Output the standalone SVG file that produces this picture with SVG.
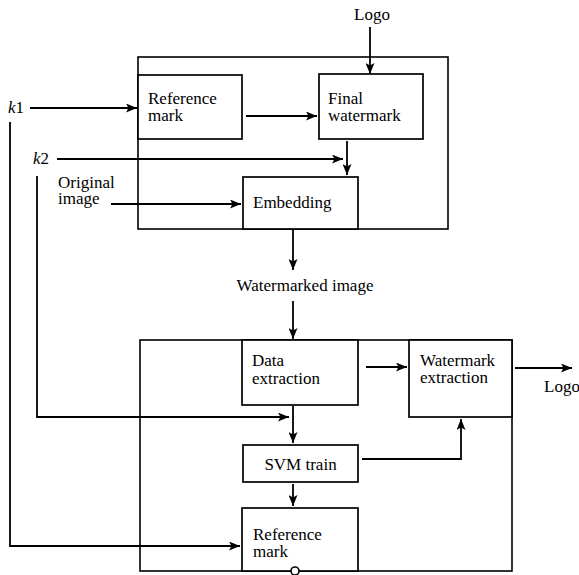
<svg xmlns="http://www.w3.org/2000/svg" width="579" height="575" viewBox="0 0 579 575">
<style>
  .box { fill: #fff; stroke: #000; stroke-width: 1.7; }
  .frame { fill: none; stroke: #000; stroke-width: 1.6; }
  .arr { fill: none; stroke: #000; stroke-width: 1.8; marker-end: url(#ah); }
  .lbl { font-family: "Liberation Serif", "Times New Roman", serif; font-size: 17px; fill: #000; }
</style>
<defs>
  <marker id="ah" viewBox="0 0 11 9" refX="11" refY="4.5" markerWidth="11" markerHeight="9" markerUnits="userSpaceOnUse" orient="auto">
    <path d="M0,0 L11,4.5 L0,9 L2.5,4.5 Z" fill="#000"/>
  </marker>
</defs>
<rect x="0" y="0" width="579" height="575" fill="#fff"/>

<!-- embedding stage frame -->
<rect class="frame" x="138" y="57" width="310" height="172"/>
<!-- extraction stage frame -->
<rect class="frame" x="140" y="340" width="372" height="231"/>

<g id="connectors">
  <!-- Logo into final watermark -->
  <line class="arr" x1="370" y1="27" x2="370" y2="74"/>
  <!-- k1 into reference mark -->
  <line class="arr" x1="30" y1="108" x2="137" y2="108"/>
  <!-- reference mark to final watermark -->
  <line class="arr" x1="246" y1="116" x2="317" y2="116"/>
  <!-- k2 into embedding path -->
  <line class="arr" x1="57" y1="159" x2="343" y2="159"/>
  <!-- final watermark to embedding -->
  <line class="arr" x1="347" y1="141" x2="347" y2="175"/>
  <!-- original image into embedding -->
  <line class="arr" x1="111" y1="204" x2="241" y2="204"/>
  <!-- embedding out -->
  <line class="arr" x1="293" y1="229" x2="293" y2="270"/>
  <!-- watermarked image into data extraction -->
  <line class="arr" x1="293" y1="301" x2="293" y2="339"/>
  <!-- data extraction to watermark extraction -->
  <line class="arr" x1="366" y1="367" x2="407" y2="367"/>
  <!-- logo out -->
  <line class="arr" x1="515" y1="368" x2="572" y2="368"/>
  <!-- data extraction to SVM train -->
  <line class="arr" x1="293" y1="406" x2="293" y2="443"/>
  <!-- k2 branch to SVM path -->
  <polyline class="arr" points="37,176 37,417 289,417"/>
  <!-- SVM train to watermark extraction -->
  <polyline class="arr" points="362,459 461,459 461,419"/>
  <!-- SVM train to reference mark -->
  <line class="arr" x1="293" y1="484" x2="293" y2="506"/>
  <!-- k1 branch to reference mark -->
  <polyline class="arr" points="10,122 10,546 240,546"/>
</g>

<g id="ref-mark-top">
  <rect class="box" x="138" y="75" width="104" height="64"/>
  <text class="lbl" x="148" y="104">Reference</text>
  <text class="lbl" x="148" y="121">mark</text>
</g>
<g id="final-watermark">
  <rect class="box" x="319" y="74" width="104" height="65"/>
  <text class="lbl" x="328" y="104">Final</text>
  <text class="lbl" x="328" y="121">watermark</text>
</g>
<g id="embedding">
  <rect class="box" x="243" y="177" width="115" height="52"/>
  <text class="lbl" x="253" y="208">Embedding</text>
</g>
<g id="data-extraction">
  <rect class="box" x="242" y="340" width="116" height="65"/>
  <text class="lbl" x="252" y="366">Data</text>
  <text class="lbl" x="252" y="384">extraction</text>
</g>
<g id="watermark-extraction">
  <rect class="box" x="409" y="340" width="103" height="77"/>
  <text class="lbl" x="420" y="366">Watermark</text>
  <text class="lbl" x="420" y="383">extraction</text>
</g>
<g id="svm-train">
  <rect class="box" x="243" y="445" width="115" height="37"/>
  <text class="lbl" x="300.5" y="470" text-anchor="middle">SVM train</text>
</g>
<g id="ref-mark-bottom">
  <rect class="box" x="242" y="508" width="116" height="63"/>
  <text class="lbl" x="253" y="540">Reference</text>
  <text class="lbl" x="253" y="557">mark</text>
</g>

<g id="labels">
  <text class="lbl" x="372" y="20" text-anchor="middle">Logo</text>
  <text class="lbl" x="8" y="113"><tspan font-style="italic">k</tspan>1</text>
  <text class="lbl" x="33" y="164"><tspan font-style="italic">k</tspan>2</text>
  <text class="lbl" x="58" y="188">Original</text>
  <text class="lbl" x="58" y="204">image</text>
  <text class="lbl" x="305" y="291" text-anchor="middle">Watermarked image</text>
  <text class="lbl" x="544" y="392">Logo</text>
</g>

<!-- junction on the lower frame -->
<circle cx="295" cy="571" r="4" fill="#fff" stroke="#000" stroke-width="1.6"/>
</svg>
